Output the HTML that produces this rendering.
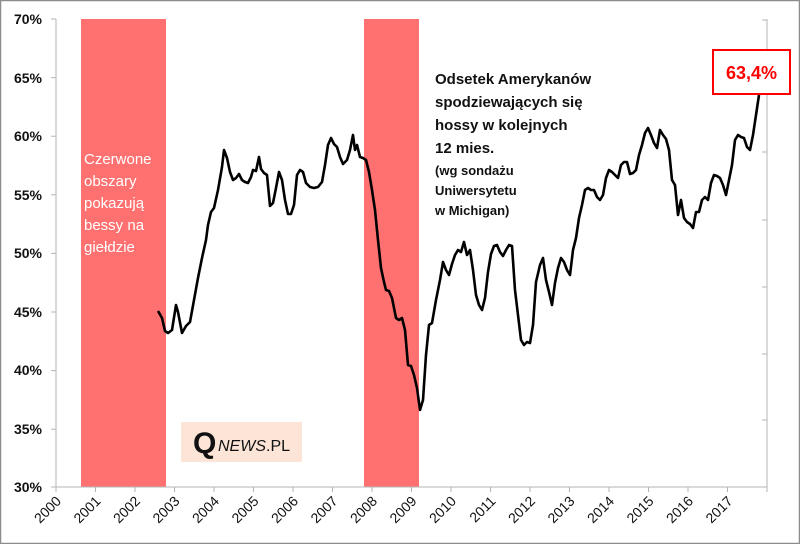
<!DOCTYPE html>
<html><head><meta charset="utf-8"><style>
html,body{margin:0;padding:0;background:#fff}
svg{display:block}
text{font-family:"Liberation Sans","DejaVu Sans",sans-serif}
</style></head><body>
<svg width="800" height="544" viewBox="0 0 800 544" xmlns="http://www.w3.org/2000/svg">
<rect x="0.5" y="0.5" width="799" height="543" fill="#fff" stroke="#8c8c8c" stroke-width="1.5"/>
<rect x="81" y="19" width="85" height="468" fill="#ff7171"/>
<rect x="364" y="19" width="55" height="468" fill="#ff7171"/>
<g stroke="#b5b5b5" stroke-width="1">
<line x1="56" y1="19" x2="56" y2="487"/>
<line x1="767" y1="19" x2="767" y2="487"/>
<line x1="56" y1="487" x2="767" y2="487"/>
<path d="M51 19H56M51 77.6H56M51 136.2H56M51 194.8H56M51 253.4H56M51 312H56M51 370.6H56M51 429.2H56M51 487H56"/>
<path d="M762 20H767M762 152H767M762 220H767M762 287H767M762 354H767M762 420H767"/>
<path d="M56 487v5M95.5 487v5M135 487v5M174.5 487v5M214 487v5M253.5 487v5M293 487v5M332.5 487v5M372 487v5M411.5 487v5M451 487v5M490.5 487v5M530 487v5M569.5 487v5M609 487v5M648.5 487v5M688 487v5M727.5 487v5M767 487v5"/>
</g>
<g font-size="14" font-weight="bold" fill="#111" text-anchor="end">
<text x="42" y="24">70%</text><text x="42" y="83">65%</text><text x="42" y="141">60%</text>
<text x="42" y="200">55%</text><text x="42" y="258">50%</text><text x="42" y="317">45%</text>
<text x="42" y="375">40%</text><text x="42" y="434">35%</text><text x="42" y="492">30%</text>
</g>
<g font-size="14" fill="#111" text-anchor="end">
<text transform="translate(62,502) rotate(-45)">2000</text>
<text transform="translate(101.5,502) rotate(-45)">2001</text>
<text transform="translate(141,502) rotate(-45)">2002</text>
<text transform="translate(180.5,502) rotate(-45)">2003</text>
<text transform="translate(220,502) rotate(-45)">2004</text>
<text transform="translate(259.5,502) rotate(-45)">2005</text>
<text transform="translate(299,502) rotate(-45)">2006</text>
<text transform="translate(338.5,502) rotate(-45)">2007</text>
<text transform="translate(378,502) rotate(-45)">2008</text>
<text transform="translate(417.5,502) rotate(-45)">2009</text>
<text transform="translate(457,502) rotate(-45)">2010</text>
<text transform="translate(496.5,502) rotate(-45)">2011</text>
<text transform="translate(536,502) rotate(-45)">2012</text>
<text transform="translate(575.5,502) rotate(-45)">2013</text>
<text transform="translate(615,502) rotate(-45)">2014</text>
<text transform="translate(654.5,502) rotate(-45)">2015</text>
<text transform="translate(694,502) rotate(-45)">2016</text>
<text transform="translate(733.5,502) rotate(-45)">2017</text>
</g>
<g font-size="15" fill="#fff">
<text x="84" y="164">Czerwone</text><text x="84" y="186">obszary</text>
<text x="84" y="208">pokazują</text><text x="84" y="230">bessy na</text>
<text x="84" y="252">giełdzie</text>
</g>
<g font-size="15" font-weight="bold" fill="#111">
<text x="435" y="84">Odsetek Amerykanów</text>
<text x="435" y="107">spodziewających się</text>
<text x="435" y="130">hossy w kolejnych</text>
<text x="435" y="153">12 mies.</text>
</g>
<g font-size="13" font-weight="bold" fill="#111">
<text x="435" y="175">(wg sondażu</text>
<text x="435" y="195">Uniwersytetu</text>
<text x="435" y="215">w Michigan)</text>
</g>
<rect x="181" y="422" width="121" height="40" fill="#fce4d6"/>
<text x="193" y="453" font-family="Liberation Serif,serif" font-size="30" font-weight="bold" fill="#111">Q</text>
<text x="218" y="451" font-size="16" font-style="italic" fill="#111">NEWS<tspan font-style="normal">.PL</tspan></text>
<polyline fill="none" stroke="#000" stroke-width="2.6" stroke-linejoin="round" points="158,311 162,318 165,331 168,333 172,330 176,305 178,312 182,333 186,326 190,322 194,300 198,278 202,258 206,240 208,225 211,212 214,208 218,190 222,167 224,150 227,158 230,172 233,180 236,178 239,174 242,180 245,182 248,183 251,177 253,170 256,171 259,157 261,169 264,173 267,175 270,206 273,203 276,188 279,172 282,180 285,200 288,214 291,214 294,205 297,175 300,170 303,172 306,183 310,187 314,188 318,187 322,182 325,165 328,145 331,138 334,144 337,147 340,157 343,164 347,160 350,150 353,135 355,150 357,145 360,157 363,158 366,160 369,172 372,190 375,210 378,240 381,268 384,282 386,290 389,291 392,298 396,318 399,320 402,318 405,330 408,365 411,366 414,375 417,388 420,410 423,400 426,355 429,325 432,323 436,300 440,280 443,262 446,270 449,275 452,264 455,255 458,250 461,252 464,242 467,255 470,250 473,270 476,295 479,305 482,310 485,298 488,272 491,254 494,246 497,245 500,252 503,256 506,250 509,245 512,246 515,290 518,315 521,340 524,345 527,342 530,343 533,325 536,282 540,265 543,258 546,280 549,292 552,305 555,283 558,268 561,258 564,262 567,270 570,275 573,250 576,238 579,218 582,205 585,190 588,188 591,190 594,190 597,197 600,200 603,195 606,178 609,170 612,172 615,175 618,178 621,165 624,162 627,162 630,174 633,173 636,170 639,155 642,145 645,133 648,128 651,135 654,143 657,148 660,130 663,135 666,139 669,150 672,180 675,185 678,215 681,200 684,218 687,222 690,224 693,228 696,212 699,212 702,200 705,197 708,200 711,183 714,175 717,176 720,178 723,185 726,195 729,180 732,165 735,140 738,135 741,137 744,138 747,147 750,150 753,135 756,115 759,95"/>
<rect x="713" y="50" width="77" height="44" fill="#fff" stroke="#ff0000" stroke-width="2"/>
<text x="751.5" y="79" font-size="18" font-weight="bold" fill="#ff0000" text-anchor="middle">63,4%</text>
</svg>
</body></html>
